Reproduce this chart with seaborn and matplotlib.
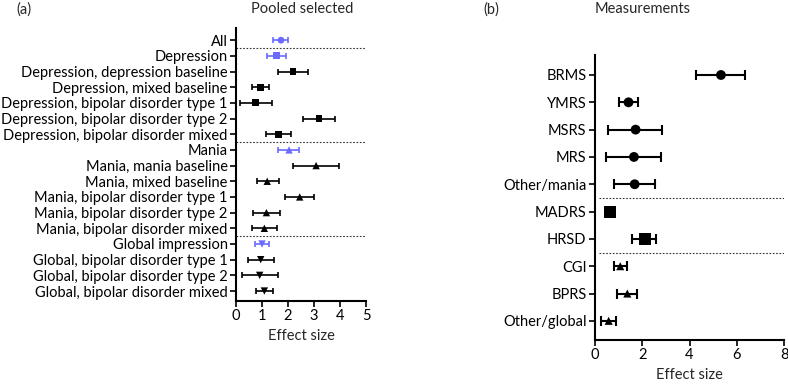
import numpy as np
import pandas as pd
import matplotlib
matplotlib.use("Agg")
import matplotlib.pyplot as plt
import seaborn as sns

# ── data: panel (a) pooled selected ───────────────────────────────────────────
pooled_labels = [
    "All",
    "Depression",
    "Depression, depression baseline",
    "Depression, mixed baseline",
    "Depression, bipolar disorder type 1",
    "Depression, bipolar disorder type 2",
    "Depression, bipolar disorder mixed",
    "Mania",
    "Mania, mania baseline",
    "Mania, mixed baseline",
    "Mania, bipolar disorder type 1",
    "Mania, bipolar disorder type 2",
    "Mania, bipolar disorder mixed",
    "Global impression",
    "Global, bipolar disorder type 1",
    "Global, bipolar disorder type 2",
    "Global, bipolar disorder mixed",
]
pooled_es = [1.73, 1.55, 2.19, 0.94, 0.76, 3.19, 1.64, 2.04, 3.08, 1.20, 2.45, 1.17, 1.09, 1.00, 0.95, 0.91, 1.09]
pooled_lo = [1.43, 1.18, 1.60, 0.60, 0.17, 2.58, 1.15, 1.62, 2.21, 0.80, 1.90, 0.64, 0.60, 0.73, 0.45, 0.23, 0.76]
pooled_hi = [2.00, 1.92, 2.77, 1.28, 1.37, 3.81, 2.13, 2.44, 3.96, 1.64, 2.99, 1.69, 1.56, 1.28, 1.45, 1.60, 1.44]
pooled_group = ["all"] + ["dep"] * 6 + ["mania"] * 6 + ["global"] * 4
pooled_summary = [True, True, False, False, False, False, False,
                  True, False, False, False, False, False,
                  True, False, False, False]

# ── data: panel (b) measurements ──────────────────────────────────────────────
meas_labels = ["BRMS", "YMRS", "MSRS", "MRS", "Other/mania",
               "MADRS", "HRSD", "CGI", "BPRS", "Other/global"]
meas_es = [5.33, 1.42, 1.72, 1.65, 1.68, 0.65, 2.10, 1.07, 1.37, 0.58]
meas_lo = [4.27, 1.02, 0.56, 0.47, 0.79, 0.55, 1.58, 0.82, 0.92, 0.27]
meas_hi = [6.36, 1.82, 2.82, 2.79, 2.52, 0.75, 2.58, 1.34, 1.78, 0.89]
meas_group = ["mania"] * 5 + ["dep"] * 2 + ["global"] * 3

sns.set_theme(style="ticks")
plt.rcParams['font.family'] = ['Lato', 'DejaVu Sans']

BLUE = '#6b6bff'
markers_a = {"all": "o", "dep": "s", "mania": "^", "global": "v"}
markers_b = {"mania": "o", "dep": "s", "global": "^"}

df_a = pd.DataFrame({"label": pooled_labels, "es": pooled_es, "lo": pooled_lo,
                     "hi": pooled_hi, "group": pooled_group, "summary": pooled_summary})
df_a["pos"] = np.arange(len(df_a))
df_b = pd.DataFrame({"label": meas_labels, "es": meas_es, "lo": meas_lo,
                     "hi": meas_hi, "group": meas_group})
df_b["pos"] = np.arange(len(df_b))

fig = plt.figure(figsize=(7.88, 3.85), dpi=100)
ax1 = fig.add_axes([0.2995, 0.218, 0.165, 0.709])
ax2 = fig.add_axes([0.755, 0.117, 0.24, 0.74])

# ── panel (a) ─────────────────────────────────────────────────────────────────
for _, r in df_a.iterrows():
    col = BLUE if r["summary"] else 'black'
    ax1.errorbar(r["es"], r["pos"], xerr=[[r["es"] - r["lo"]], [r["hi"] - r["es"]]],
                 fmt='none', ecolor=col, elinewidth=1.2, capsize=2.5, capthick=1.2, zorder=2)
sns.scatterplot(data=df_a, x="es", y="pos", style="group", markers=markers_a,
                hue="summary", palette={True: BLUE, False: 'black'},
                size="group", sizes={"all": 24, "dep": 24, "mania": 28, "global": 28},
                edgecolor='none', legend=False, ax=ax1, zorder=3)
for yy in [0.5, 6.5, 12.5]:
    ax1.axhline(yy, color='#333333', ls=(0, (1.5, 1.5)), lw=0.8)
ax1.set_xlim(0, 5)
ax1.set_ylim(16.64, -0.77)
ax1.set_yticks(df_a["pos"])
ax1.set_yticklabels(pooled_labels)
ax1.set_xticks(range(6))
ax1.set_xlabel('Effect size', fontsize=10.5)
ax1.set_ylabel('')

# ── panel (b) ─────────────────────────────────────────────────────────────────
for _, r in df_b.iterrows():
    ax2.errorbar(r["es"], r["pos"], xerr=[[r["es"] - r["lo"]], [r["hi"] - r["es"]]],
                 fmt='none', ecolor='black', elinewidth=1.5, capsize=3.5, capthick=1.5, zorder=2)
sns.scatterplot(data=df_b, x="es", y="pos", style="group", markers=markers_b,
                size="group", sizes={"mania": 50, "dep": 75, "global": 34},
                color='black', edgecolor='none', legend=False, ax=ax2, zorder=3)
for yy in [4.5, 6.5]:
    ax2.axhline(yy, xmin=0.02, color='#333333', ls=(0, (1.5, 1.5)), lw=0.8)
ax2.set_xlim(0, 8)
ax2.set_ylim(9.7, -0.73)
ax2.set_yticks(df_b["pos"])
ax2.set_yticklabels(meas_labels)
ax2.set_xticks([0, 2, 4, 6, 8])
ax2.set_xlabel('Effect size', fontsize=10.5)
ax2.set_ylabel('')

for ax in (ax1, ax2):
    sns.despine(ax=ax)
    for sp in ('left', 'bottom'):
        ax.spines[sp].set_linewidth(1.5)
        ax.spines[sp].set_color('black')
    ax.tick_params(axis='both', length=4, width=1.2, colors='black',
                   labelsize=10.5, pad=2)

fig.text(0.021, 0.995, '(a)', fontsize=10.5, va='top', ha='left')
fig.text(0.383, 0.995, 'Pooled selected', fontsize=10.5, va='top', ha='center')
fig.text(0.613, 0.995, '(b)', fontsize=10.5, va='top', ha='left')
fig.text(0.815, 0.995, 'Measurements', fontsize=10.5, va='top', ha='center')

fig.savefig('out.png', dpi=100)
